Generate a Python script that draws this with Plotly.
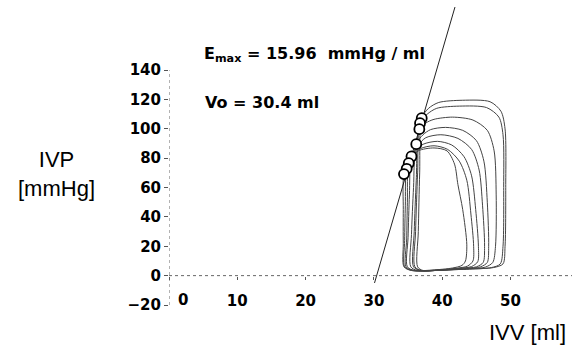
import plotly.graph_objects as go

# End-systolic pressure-volume relation
EMAX = 15.96   # mmHg / ml
V0 = 30.4      # ml
esp_line_pressure = [-5, 183]

# End-systolic points of each beat (volume ml, pressure mmHg)
es_volume = [37.0, 36.75, 36.65, 36.2, 35.5, 35.1, 34.8, 34.4]
es_pressure = [107.3, 103.9, 99.8, 89.6, 81.2, 76.6, 72.8, 69.2]

# Pressure-volume loops, one pair of lists per beat
loop1_v = [37.0, 36.7, 36.5, 36.4, 37.2, 40.0, 44.0, 47.5, 48.9, 49.2, 49.3, 49.2, 48.6, 47.0, 43.0, 39.5, 38.0, 37.0]
loop1_p = [107.3, 70, 30, 6, 3.5, 3.8, 4.5, 5.5, 8, 20, 60, 100, 112, 118.5, 119.5, 118, 114, 107.3]
loop2_v = [36.75, 36.4, 36.1, 36.0, 37.0, 40.0, 44.0, 47.2, 48.5, 48.9, 49.0, 48.9, 48.3, 46.5, 42.5, 39.2, 37.8, 36.75]
loop2_p = [103.9, 70, 30, 6, 3.5, 3.8, 4.5, 5.5, 8, 20, 60, 96, 108, 114.5, 115.5, 114, 110, 103.9]
loop3_v = [36.65, 36.2, 35.9, 35.8, 36.8, 40.0, 44.0, 46.3, 47.4, 47.8, 47.9, 47.6, 46.6, 44.5, 41.5, 38.8, 37.6, 36.65]
loop3_p = [99.8, 65, 30, 6, 3.5, 3.8, 4.8, 5.8, 9, 20, 55, 85, 99, 106, 108, 106.5, 104, 99.8]
loop4_v = [36.2, 35.8, 35.5, 35.4, 36.4, 40.0, 43.5, 45.6, 46.6, 46.8, 46.6, 46.1, 45.0, 43.0, 40.5, 38.3, 37.2, 36.2]
loop4_p = [89.6, 60, 28, 6, 3.5, 3.8, 4.8, 6, 9, 20, 50, 78, 92, 99, 101, 99.5, 96, 89.6]
loop5_v = [35.5, 35.2, 35.0, 34.9, 36.0, 40.0, 43.0, 45.0, 46.0, 46.2, 45.9, 45.4, 44.3, 42.3, 39.8, 37.6, 36.5, 35.5]
loop5_p = [81.2, 55, 26, 6, 3.5, 3.8, 5, 6, 9, 20, 48, 72, 86, 93.5, 96, 94, 89, 81.2]
loop6_v = [35.1, 34.9, 34.8, 34.7, 35.8, 39.5, 42.5, 44.3, 45.2, 45.3, 44.9, 44.3, 43.2, 41.4, 39.3, 37.2, 36.1, 35.1]
loop6_p = [76.6, 50, 25, 6, 3.5, 3.8, 5, 6.2, 9.5, 20, 45, 68, 81, 89, 91.5, 89.5, 85, 76.6]
loop7_v = [34.8, 34.6, 34.5, 34.5, 35.6, 39.2, 42.0, 43.7, 44.5, 44.6, 44.2, 43.6, 42.5, 40.8, 38.8, 36.8, 35.8, 34.8]
loop7_p = [72.8, 48, 24, 6, 3.5, 3.8, 5, 6.5, 10, 20, 42, 65, 78, 86, 88.5, 86.5, 82, 72.8]
loop8_v = [34.4, 34.3, 34.3, 34.4, 35.5, 38.5, 41.5, 42.9, 43.4, 43.6, 43.0, 42.3, 41.8, 40.7, 38.8, 36.5, 35.4, 34.4]
loop8_p = [69.2, 45, 22, 6, 3.5, 3.8, 5.2, 7, 10, 21, 45, 62, 76, 85, 87, 85, 79, 69.2]

loops = [(loop1_v, loop1_p), (loop2_v, loop2_p), (loop3_v, loop3_p), (loop4_v, loop4_p),
         (loop5_v, loop5_p), (loop6_v, loop6_p), (loop7_v, loop7_p), (loop8_v, loop8_p)]

# Axis ticks
x_ticks = [0, 10, 20, 30, 40, 50]
x_tick_text = ["", "10", "20", "30", "40", "50"]
zero_label = "0"
y_ticks = [-20, 0, 20, 40, 60, 80, 100, 120, 140]

X_RANGE = [0, 59.0]
Y_RANGE = [-20, 187.8]

fig = go.Figure()

for v, p in loops:
    fig.add_trace(go.Scatter(
        x=v, y=p, mode="lines",
        line=dict(color="#444", width=1, shape="spline", smoothing=0.8),
        hoverinfo="skip", showlegend=False))

line_volume = [V0 + p / EMAX for p in esp_line_pressure]
fig.add_trace(go.Scatter(
    x=line_volume, y=esp_line_pressure, mode="lines",
    line=dict(color="#222", width=1), showlegend=False))

fig.add_trace(go.Scatter(
    x=es_volume, y=es_pressure, mode="markers",
    marker=dict(size=10, color="white", line=dict(color="black", width=1.8)),
    showlegend=False))

tick_font = dict(family="DejaVu Sans", size=15, color="black", weight="bold")

fig.update_layout(
    width=572, height=352,
    margin=dict(l=169, r=0, t=0, b=47),
    paper_bgcolor="white", plot_bgcolor="white",
    xaxis=dict(
        range=X_RANGE, showgrid=False, zeroline=False, showline=False,
        anchor="free", position=(0 - Y_RANGE[0]) / (Y_RANGE[1] - Y_RANGE[0]),
        tickmode="array", tickvals=x_ticks, ticktext=x_tick_text,
        ticks="outside", ticklen=3, tickcolor="#555", tickwidth=1,
        ticklabelstandoff=8, tickfont=tick_font),
    yaxis=dict(
        range=Y_RANGE, showgrid=False, zeroline=False, showline=False,
        tickmode="array", tickvals=y_ticks,
        ticks="outside", ticklen=4, tickcolor="#555", tickwidth=1,
        tickfont=tick_font),
    shapes=[
        dict(type="line", xref="x", yref="y", x0=0, x1=0, y0=-20, y1=140,
             line=dict(color="#666", width=1, dash="dot"), layer="below"),
        dict(type="line", xref="x", yref="y", x0=X_RANGE[0], x1=X_RANGE[1], y0=0, y1=0,
             line=dict(color="#666", width=1, dash="dot"), layer="below"),
    ],
    annotations=[
        # "0" sits right of the vertical axis so it stays clear of it
        dict(x=2.1, y=-16.6, xref="x", yref="y", xanchor="center", yanchor="middle",
             text=zero_label, showarrow=False, font=tick_font),
        dict(x=4.8, y=151, xref="x", yref="y", xanchor="left", yanchor="middle",
             text="E<sub>max</sub> = 15.96 \u00a0mmHg / ml", showarrow=False,
             font=dict(family="DejaVu Sans", size=16, color="black", weight="bold")),
        dict(x=5.0, y=118, xref="x", yref="y", xanchor="left", yanchor="middle",
             text="Vo = 30.4 ml", showarrow=False,
             font=dict(family="DejaVu Sans", size=16, color="black", weight="bold")),
        dict(x=-0.28, y=0.428, xref="paper", yref="paper", xanchor="center", yanchor="middle",
             text="IVP<br>[mmHg]", showarrow=False,
             font=dict(family="Liberation Sans", size=22, color="black")),
        dict(x=0.99, y=-0.09, xref="paper", yref="paper", xanchor="right", yanchor="middle",
             text="IVV [ml]", showarrow=False,
             font=dict(family="Liberation Sans", size=22, color="black")),
    ],
)

fig.write_html("out.html")
